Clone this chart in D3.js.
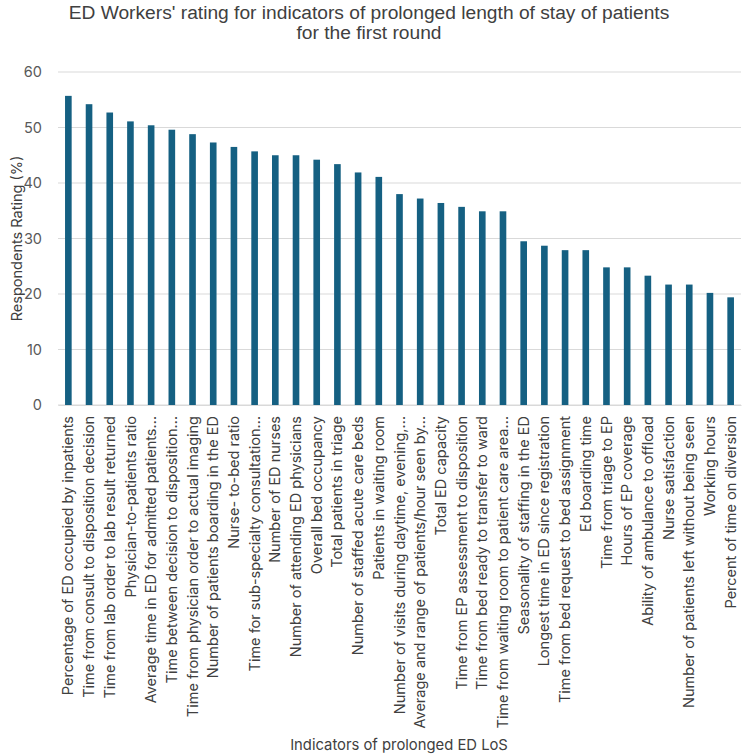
<!DOCTYPE html>
<html>
<head>
<meta charset="utf-8">
<script src="https://cdn.jsdelivr.net/npm/d3@7"></script>
<style>
  body { margin: 0; background: #fff; }
  svg text { font-family: "Inter", "Liberation Sans", sans-serif; }
</style>
</head>
<body>
<div id="chart"></div>
<script>
// indicators, in the order they appear on the x axis
var indicators = [
  "Percentage of ED occupied by inpatients",
  "Time from consult to disposition decision",
  "Time from lab order to lab result returned",
  "Physician-to-patients ratio",
  "Average time in ED for admitted patients\u2026",
  "Time between decision to disposition\u2026",
  "Time from physician order to actual imaging",
  "Number of patients boarding in the ED",
  "Nurse- to-bed ratio",
  "Time for sub-specialty consultation\u2026",
  "Number of ED nurses",
  "Number of attending ED physicians",
  "Overall bed occupancy",
  "Total patients in triage",
  "Number of staffed acute care beds",
  "Patients in waiting room",
  "Number of visits during daytime, evening,\u2026",
  "Average and range of patients/hour seen by\u2026",
  "Total ED capacity",
  "Time from EP assessment to disposition",
  "Time from bed ready to transfer to ward",
  "Time from waiting room to patient care area\u2026",
  "Seasonality of staffing in the ED",
  "Longest time in ED since registration",
  "Time from bed request to bed assignment",
  "Ed boarding time",
  "Time from triage to EP",
  "Hours of EP coverage",
  "Ability of ambulance to offload",
  "Nurse satisfaction",
  "Number of patients left without being seen",
  "Working hours",
  "Percent of time on diversion"
];
var ratings = [55.7, 54.2, 52.7, 51.1, 50.4, 49.6, 48.8, 47.3, 46.5, 45.7, 45.0, 45.0,
  44.2, 43.4, 41.9, 41.1, 38.0, 37.2, 36.4, 35.7, 34.9, 34.9, 29.5, 28.7, 27.9, 27.9,
  24.8, 24.8, 23.3, 21.7, 21.7, 20.2, 19.4];
var yTicks = [0, 10, 20, 30, 40, 50, 60];

var width = 744, height = 755;
var margin = {top: 72, right: 3, bottom: 350, left: 58};

var svg = d3.select("#chart").append("svg")
  .attr("width", width)
  .attr("height", height);

var x = d3.scaleBand()
  .domain(indicators)
  .range([margin.left, width - margin.right])
  .paddingInner(0.68)
  .paddingOuter(0.34);

var y = d3.scaleLinear()
  .domain([0, 60])
  .range([height - margin.bottom, margin.top]);

// gridlines
svg.append("g")
  .selectAll("line")
  .data(yTicks)
  .enter().append("line")
  .attr("x1", margin.left)
  .attr("x2", width - margin.right)
  .attr("y1", function(d) { return y(d); })
  .attr("y2", function(d) { return y(d); })
  .attr("stroke", "#d9d9d9")
  .attr("stroke-width", 1);

// y axis labels
var yAxis = d3.axisLeft(y).tickValues(yTicks).tickSize(0).tickPadding(16);
var gy = svg.append("g")
  .attr("transform", "translate(" + margin.left + ",0)")
  .call(yAxis);
gy.select(".domain").remove();
gy.selectAll("text")
  .attr("font-size", 14.5)
  .attr("fill", "#595959")
  .style("font-family", "Inter, 'Liberation Sans', sans-serif");

// bars
svg.append("g")
  .selectAll("rect")
  .data(ratings)
  .enter().append("rect")
  .attr("x", function(d, i) { return x(indicators[i]); })
  .attr("width", x.bandwidth())
  .attr("y", function(d) { return y(d); })
  .attr("height", function(d) { return y(0) - y(d); })
  .attr("fill", "#156082");

// x axis, labels turned to read upwards
var xAxis = d3.axisBottom(x).tickSize(0);
var gx = svg.append("g")
  .attr("transform", "translate(0," + y(0) + ")")
  .call(xAxis);
gx.select(".domain")
  .attr("stroke", "#d9d9d9");
gx.selectAll("text")
  .attr("font-size", 14.5)
  .attr("fill", "#404040")
  .style("font-family", "Inter, 'Liberation Sans', sans-serif")
  .attr("text-anchor", "end")
  .attr("dy", "0.35em")
  .attr("transform", "rotate(-90)")
  .attr("x", -11)
  .attr("y", 0);

// title
var title = svg.append("text")
  .attr("text-anchor", "middle")
  .attr("font-size", 19.2)
  .attr("fill", "#404040")
  .style("font-family", "'Liberation Sans Narrow', 'Liberation Sans', sans-serif");
title.append("tspan").attr("x", 369).attr("y", 19)
  .text("ED Workers' rating for indicators of prolonged length of stay of patients");
title.append("tspan").attr("x", 369).attr("y", 39)
  .text("for the first round");

// axis titles
svg.append("text")
  .attr("transform", "translate(22," + (y(30)) + ") rotate(-90)")
  .attr("text-anchor", "middle")
  .attr("font-size", 14.5)
  .attr("fill", "#404040")
  .text("Respondents Rating (%)");

svg.append("text")
  .attr("x", 399)
  .attr("y", 750)
  .attr("text-anchor", "middle")
  .attr("font-size", 14.8)
  .attr("fill", "#404040")
  .text("Indicators of prolonged ED LoS");
</script>
</body>
</html>
